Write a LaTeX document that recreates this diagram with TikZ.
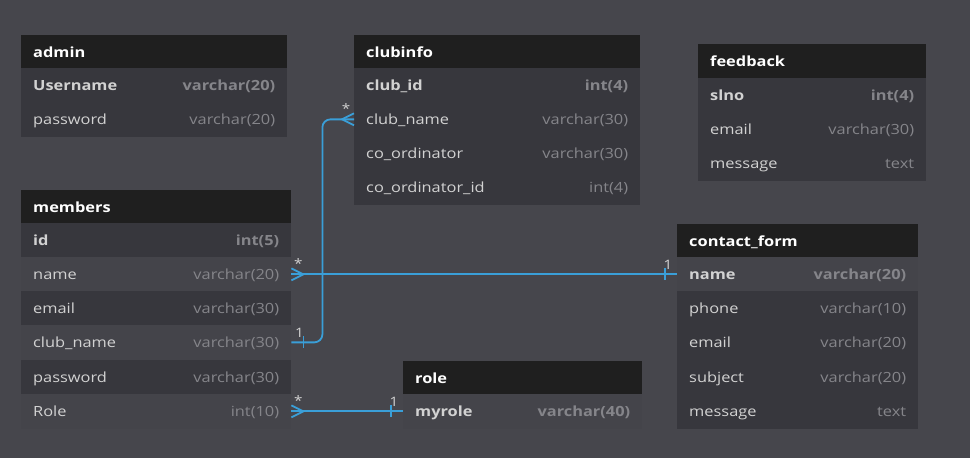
\documentclass[tikz,border=0pt]{standalone}
\usepackage{fontspec}
\setmainfont{Open Sans}[FakeStretch=1.17]
\definecolor{bgc}{HTML}{46464C}
\definecolor{hdrc}{HTML}{1F1F1F}
\definecolor{rowc}{HTML}{37373D}
\definecolor{rowlc}{HTML}{44444A}
\definecolor{fieldc}{HTML}{D2D2D2}
\definecolor{typec}{HTML}{85858A}
\definecolor{linec}{HTML}{3A9FD8}
\tikzset{
  hdr/.style={fill=hdrc, draw=none, minimum height=34pt, anchor=north west, inner sep=0pt},
  rowd/.style={fill=rowc, draw=none, minimum height=34.3pt, anchor=north west, inner sep=0pt},
  rowl/.style={fill=rowlc, draw=none, minimum height=34.3pt, anchor=north west, inner sep=0pt},
  htext/.style={anchor=west, text=white, font=\fontsize{14}{16}\selectfont\bfseries, inner sep=0pt, text height=10pt, text depth=3pt, yshift=-1.5pt},
  fname/.style={anchor=west, text=fieldc, font=\fontsize{14}{16}\selectfont, inner sep=0pt, text height=10pt, text depth=3pt, yshift=-1.5pt},
  ftype/.style={anchor=east, text=typec, font=\fontsize{14}{16}\selectfont, inner sep=0pt, text height=10pt, text depth=3pt, yshift=-1.5pt},
  pk/.style={font=\fontsize{14}{16}\selectfont\bfseries},
  pkn/.style={},
  conn/.style={draw=linec, line width=1.8pt},
  card/.style={text=fieldc, font=\fontsize{13}{15}\selectfont, inner sep=0pt}
}
\newcommand{\tblhead}[5]{%
  \node[hdr, minimum width=#4] (#1) at (#2,#3) {};
  \node[htext] at ([xshift=12pt]#1.west) {#5};
}
\newcommand{\tblrow}[8]{%
  \node[#5, minimum width=#4] (#1) at (#2,#3) {};
  \node[fname,#8] at ([xshift=12pt]#1.west) {#6};
  \node[ftype,#8] at ([xshift=-12pt]#1.east) {#7};
}
\begin{document}
\begin{tikzpicture}[x=1pt,y=-1pt]
\useasboundingbox (0,0) rectangle (970,458);
\fill[bgc] (0,0) rectangle (970,458);
% admin
\tblhead{ah}{21}{35}{266pt}{admin}
\tblrow{a1}{21}{68}{266pt}{rowd}{Username}{varchar(20)}{pk}
\tblrow{a2}{21}{102}{266pt}{rowd}{password}{varchar(20)}{pkn}
% clubinfo
\tblhead{ch}{354}{35}{286pt}{clubinfo}
\tblrow{c1}{354}{68}{286pt}{rowd}{club\_id}{int(4)}{pk}
\tblrow{c2}{354}{102}{286pt}{rowd}{club\_name}{varchar(30)}{pkn}
\tblrow{c3}{354}{136}{286pt}{rowd}{co\_ordinator}{varchar(30)}{pkn}
\tblrow{c4}{354}{170}{286pt}{rowd}{co\_ordinator\_id}{int(4)}{pkn}
% feedback
\tblhead{fh}{698}{44}{228pt}{feedback}
\tblrow{f1}{698}{78}{228pt}{rowd}{slno}{int(4)}{pk}
\tblrow{f2}{698}{112}{228pt}{rowd}{email}{varchar(30)}{pkn}
\tblrow{f3}{698}{146}{228pt}{rowd}{message}{text}{pkn}
% members
\tblhead{mh}{21}{190}{270pt}{members}
\tblrow{m1}{21}{223}{270pt}{rowd}{id}{int(5)}{pk}
\tblrow{m2}{21}{257}{270pt}{rowl}{name}{varchar(20)}{pkn}
\tblrow{m3}{21}{291}{270pt}{rowd}{email}{varchar(30)}{pkn}
\tblrow{m4}{21}{325}{270pt}{rowl}{club\_name}{varchar(30)}{pkn}
\tblrow{m5}{21}{360}{270pt}{rowd}{password}{varchar(30)}{pkn}
\tblrow{m6}{21}{394}{270pt}{rowl}{Role}{int(10)}{pkn}
% contact_form
\tblhead{kh}{677}{224}{241pt}{contact\_form}
\tblrow{k1}{677}{257}{241pt}{rowl}{name}{varchar(20)}{pk}
\tblrow{k2}{677}{291}{241pt}{rowd}{phone}{varchar(10)}{pkn}
\tblrow{k3}{677}{325}{241pt}{rowd}{email}{varchar(20)}{pkn}
\tblrow{k4}{677}{360}{241pt}{rowd}{subject}{varchar(20)}{pkn}
\tblrow{k5}{677}{394}{241pt}{rowd}{message}{text}{pkn}
% role
\tblhead{rh}{403}{361}{239pt}{role}
\tblrow{r1}{403}{394}{239pt}{rowl}{myrole}{varchar(40)}{pk}
% members.name -> contact_form.name
\draw[conn] (m2.east) -- (k1.west);
\draw[conn] ([yshift=6pt]m2.east) -- ([xshift=12pt]m2.east) -- ([yshift=-6pt]m2.east);
\draw[conn] ([xshift=-12pt,yshift=6pt]k1.west) -- ([xshift=-12pt,yshift=-6pt]k1.west);
\node[card] at ([xshift=7pt,yshift=11pt]m2.east) {*};
\node[card] at ([xshift=-9pt,yshift=9pt]k1.west) {1};
% members.club_name -> clubinfo.club_name
\draw[conn, rounded corners=8pt] (m4.east) -- ++(31,0) |- (c2.west);
\draw[conn] ([yshift=6pt]c2.west) -- ([xshift=-12pt]c2.west) -- ([yshift=-6pt]c2.west);
\draw[conn] ([xshift=12pt,yshift=6pt]m4.east) -- ([xshift=12pt,yshift=-6pt]m4.east);
\node[card] at ([xshift=-8pt,yshift=11pt]c2.west) {*};
\node[card] at ([xshift=8pt,yshift=9pt]m4.east) {1};
% members.Role -> role.myrole
\draw[conn] (m6.east) -- (r1.west);
\draw[conn] ([yshift=6pt]m6.east) -- ([xshift=12pt]m6.east) -- ([yshift=-6pt]m6.east);
\draw[conn] ([xshift=-12pt,yshift=6pt]r1.west) -- ([xshift=-12pt,yshift=-6pt]r1.west);
\node[card] at ([xshift=7pt,yshift=11pt]m6.east) {*};
\node[card] at ([xshift=-9pt,yshift=9pt]r1.west) {1};
\end{tikzpicture}
\end{document}
